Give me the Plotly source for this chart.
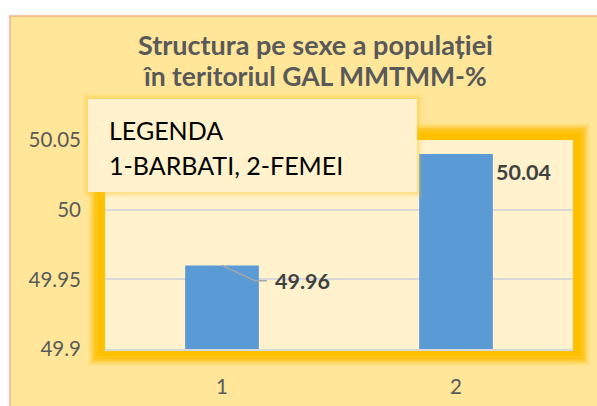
import plotly.graph_objects as go

categories = [1, 2]
tick_labels = ["1", "2"]
values = [49.96, 50.04]
value_labels = ["49.96", "50.04"]
y_ticks = [49.9, 49.95, 50, 50.05]
y_tick_labels = ["49.9", "49.95", "50", "50.05"]
title_lines = ["Structura pe sexe a populației", "în teritoriul GAL MMTMM-%"]
legend_lines = ["LEGENDA", "1-BARBATI, 2-FEMEI"]

W, H = 597, 406
L, R, T, B = 105, 24, 140, 57
PW, PH = W - L - R, H - T - B

def px(x):
    return (x - L) / PW

def py(y):
    return (H - B - y) / PH

FONT = "Lato"

fig = go.Figure()
fig.add_trace(go.Bar(
    x=categories, y=values, marker=dict(color="#5B9BD5", line=dict(width=0)),
    width=0.315, hoverinfo="skip", showlegend=False,
))

# leader line for first label
fig.add_trace(go.Scatter(
    x=[categories[0], categories[0] + 0.141, categories[0] + 0.192],
    y=[values[0], values[0] - 0.011, values[0] - 0.011],
    mode="lines", line=dict(color="#A6A6A6", width=1.5),
    hoverinfo="skip", showlegend=False,
))

shapes = []
# outer chart area
shapes.append(dict(type="rect", xref="paper", yref="paper", layer="below",
                   x0=px(10), x1=px(620), y0=py(430), y1=py(16),
                   fillcolor="#FFE699", line=dict(color="#F4B183", width=1.5)))
# glow around plot frame
for i, op in enumerate([0.1, 0.18, 0.28, 0.4, 0.55]):
    g = 9 - i * 1.7
    shapes.append(dict(type="rect", xref="paper", yref="paper", layer="below",
                       x0=px(97 - g), x1=px(581 + g), y0=py(357 + g), y1=py(132 - g),
                       fillcolor="rgba(255,192,0,%.2f)" % op, line=dict(width=0)))
# gold frame
shapes.append(dict(type="rect", xref="paper", yref="paper", layer="below",
                   x0=px(98), x1=px(580), y0=py(356), y1=py(133),
                   fillcolor="#FFC000", line=dict(width=0)))
# plot fill
shapes.append(dict(type="rect", xref="paper", yref="paper", layer="below",
                   x0=0, x1=1, y0=0, y1=1,
                   fillcolor="#FFF2CC", line=dict(width=0)))
# legend box soft glow and box
for i, op in enumerate([0.06, 0.1, 0.15, 0.2]):
    g = 6 - i * 1.5
    shapes.append(dict(type="rect", xref="paper", yref="paper", layer="above",
                       x0=px(88 - g), x1=px(417 + g), y0=py(192 + g), y1=py(99 - g),
                       fillcolor="rgba(255,200,40,%.2f)" % op, line=dict(width=0)))
shapes.append(dict(type="rect", xref="paper", yref="paper", layer="above",
                   x0=px(88), x1=px(417), y0=py(192), y1=py(99),
                   fillcolor="#FFF2CC", line=dict(width=0)))

annotations = []
annotations.append(dict(xref="paper", yref="paper", x=px(315), y=py(45),
                        text="<b>%s</b>" % title_lines[0], showarrow=False,
                        font=dict(family=FONT, size=27, color="#595959"),
                        xanchor="center", yanchor="middle"))
annotations.append(dict(xref="paper", yref="paper", x=px(314), y=py(76),
                        text="<b>%s</b>" % title_lines[1], showarrow=False,
                        font=dict(family=FONT, size=26.5, color="#595959"),
                        xanchor="center", yanchor="middle"))
annotations.append(dict(xref="paper", yref="paper", x=px(107), y=py(130),
                        text=legend_lines[0], showarrow=False,
                        font=dict(family=FONT, size=25, color="#000000"),
                        xanchor="left", yanchor="middle"))
annotations.append(dict(xref="paper", yref="paper", x=px(107), y=py(165),
                        text=legend_lines[1], showarrow=False,
                        font=dict(family=FONT, size=25, color="#000000"),
                        xanchor="left", yanchor="middle"))
# data labels
annotations.append(dict(x=categories[0] + 0.192, y=values[0] - 0.011, xref="x", yref="y",
                        text="<b>%s</b>" % value_labels[0], showarrow=False,
                        xanchor="left", yanchor="middle", xshift=6,
                        font=dict(family=FONT, size=21.5, color="#404040")))
annotations.append(dict(x=categories[1] + 0.1575, y=values[1], xref="x", yref="y",
                        text="<b>%s</b>" % value_labels[1], showarrow=False,
                        xanchor="left", yanchor="middle", xshift=1, yshift=-18,
                        font=dict(family=FONT, size=21.5, color="#404040")))

fig.update_layout(
    width=W, height=H, margin=dict(l=L, r=R, t=T, b=B, pad=0, autoexpand=False),
    paper_bgcolor="white", plot_bgcolor="rgba(0,0,0,0)",
    shapes=shapes, annotations=annotations, showlegend=False,
    xaxis=dict(range=[0.5, 2.5], tickvals=categories, ticktext=tick_labels,
               showgrid=False, zeroline=False, showline=True, linecolor="#D9D9D9",
               linewidth=1.5, ticks="", ticklabelstandoff=19, automargin=False,
               tickfont=dict(family=FONT, size=20.5, color="#595959"), fixedrange=True),
    yaxis=dict(range=[49.9, 50.05], tickvals=y_ticks, ticktext=y_tick_labels,
               showgrid=True, gridcolor="#D9D9D9", gridwidth=1.5, zeroline=False,
               showline=False, ticks="", ticklabelstandoff=23, automargin=False,
               tickfont=dict(family=FONT, size=20.5, color="#595959"), fixedrange=True),
)

fig.write_html("out.html", post_script="document.body.style.margin='0';",
               config={"displayModeBar": False})
